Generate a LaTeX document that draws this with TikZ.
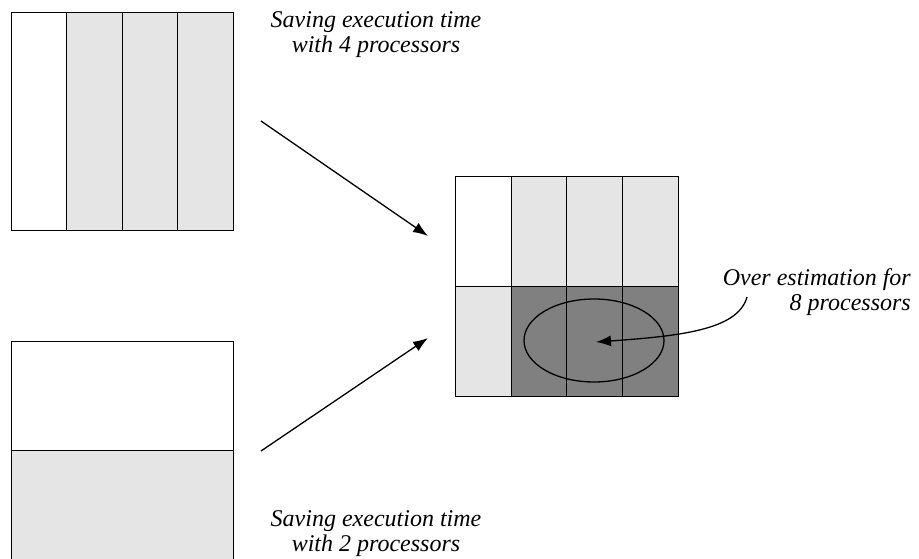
\documentclass[tikz,border=0pt]{standalone}
\usepackage{fontspec}
\setmainfont{Liberation Serif}
\usetikzlibrary{arrows.meta,shapes.geometric}
\definecolor{lightgray}{HTML}{E5E5E5}
\definecolor{darkgray}{HTML}{808080}
\begin{document}
\begin{tikzpicture}[x=1pt,y=-1pt,
  cell/.style={draw=black, line width=0.9pt},
  light/.style={cell, fill=lightgray},
  dark/.style={cell, fill=darkgray},
  plain/.style={cell, fill=white},
  lbl/.style={font=\fontsize{24}{25}\selectfont\itshape, inner sep=0pt},
  arr/.style={-{Latex[length=15pt,width=11pt]}, line width=1.3pt}]
\useasboundingbox (0,0) rectangle (919,559);
% top-left: 4 processors
\path[plain] (11,12) rectangle (66,230);
\path[light] (66,12) rectangle (122,230);
\path[light] (122,12) rectangle (177,230);
\path[light] (177,12) rectangle (233,230);
\node[inner sep=0pt, minimum width=222pt, minimum height=218pt] (four) at (122,121) {};
% bottom-left: 2 processors
\path[plain] (11,341) rectangle (233,450);
\path[light] (11,450) rectangle (233,561);
\node[inner sep=0pt, minimum width=222pt, minimum height=218pt] (two) at (122,450) {};
% right: 8 processors
\path[plain] (455,176) rectangle (511,286);
\path[light] (511,176) rectangle (566,286);
\path[light] (566,176) rectangle (622,286);
\path[light] (622,176) rectangle (678,286);
\path[light] (455,286) rectangle (511,396);
\path[dark] (511,286) rectangle (566,396);
\path[dark] (566,286) rectangle (622,396);
\path[dark] (622,286) rectangle (678,396);
\node[draw, line width=1.3pt, ellipse, minimum width=140pt, minimum height=83pt, inner sep=0pt] (ell) at (594,340.5) {};
\coordinate (tip) at (596,342);
% labels
\node[lbl, align=center] (t4) at (376,35) {Saving execution time\\with 4 processors};
\node[lbl, align=center] (t2) at (376,534) {Saving execution time\\with 2 processors};
\node[lbl, align=right, anchor=east] (t8) at (911,292) {Over estimation for\\8 processors};
% arrows
\coordinate (a1s) at (261,121);
\coordinate (a1e) at (428,236);
\coordinate (a2s) at (261,451);
\coordinate (a2e) at (428,338);
\draw[arr] (a1s) -- (a1e);
\draw[arr] (a2s) -- (a2e);
\coordinate (cs) at (747,297);
\draw[arr] (cs) .. controls (738,330) and (680,336) .. (tip);
\end{tikzpicture}
\end{document}
